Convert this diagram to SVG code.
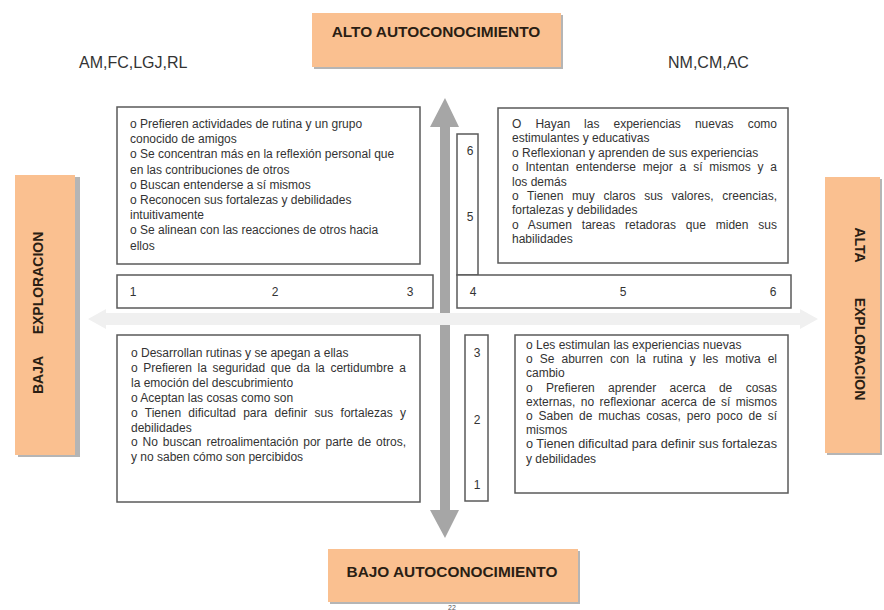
<svg xmlns="http://www.w3.org/2000/svg" width="884" height="610" viewBox="0 0 884 610">
<style>
.box{fill:#fff;stroke:#5a5a5a;stroke-width:1.5}
.lbl{fill:#fac090}
.sh{fill:#b5b5b5}
.t{font-family:"Liberation Sans",Arial,sans-serif;font-size:12px;fill:#333}
.h{font-family:"Liberation Sans",Arial,sans-serif;font-weight:bold;font-size:15.4px;fill:#2a1e14}
.v{font-family:"Liberation Sans",Arial,sans-serif;font-weight:bold;font-size:14px;fill:#2a1e14}
.c{font-family:"Liberation Sans",Arial,sans-serif;font-size:16px;fill:#333}
</style>
<rect width="884" height="610" fill="#fff"/>

<g id="connectors">
  <path d="M440,127 L430,127 L445,98 L459,127 L450,127 L450,510 L459,510 L445,538 L430,510 L440,510 Z" fill="#a6a6a6"/>
  <path d="M106,313 L106,309 L88,319 L106,329 L106,325 L800,325 L800,329 L818,319 L800,309 L800,313 Z" fill="#f0f0f0"/>
</g>

<g id="top-label">
  <rect class="sh" x="314" y="15" width="249" height="54"/>
  <rect class="lbl" x="312" y="13" width="249" height="54"/>
  <text class="h" x="436" y="37" text-anchor="middle">ALTO AUTOCONOCIMIENTO</text>
</g>
<g id="bottom-label">
  <rect class="sh" x="330" y="551" width="250" height="53"/>
  <rect class="lbl" x="328" y="549" width="250" height="53"/>
  <text class="h" x="452" y="577" text-anchor="middle">BAJO AUTOCONOCIMIENTO</text>
</g>
<g id="left-label">
  <rect class="sh" x="18" y="177" width="62" height="280"/>
  <rect class="lbl" x="15" y="175" width="60" height="280"/>
  <text class="v" transform="translate(43,283) rotate(-90)" text-anchor="middle">EXPLORACION</text>
  <text class="v" transform="translate(43,375) rotate(-90)" text-anchor="middle">BAJA</text>
</g>
<g id="right-label">
  <rect class="sh" x="827" y="179" width="55" height="276"/>
  <rect class="lbl" x="825" y="177" width="55" height="276"/>
  <text class="v" transform="translate(855,245) rotate(90)" text-anchor="middle">ALTA</text>
  <text class="v" transform="translate(855,349) rotate(90)" text-anchor="middle">EXPLORACION</text>
</g>

<g id="group-left">
  <text class="c" x="79" y="68">AM,FC,LGJ,RL</text>
</g>
<g id="group-right">
  <text class="c" x="668" y="68">NM,CM,AC</text>
</g>

<g id="box-top-left">
  <rect class="box" x="117" y="107" width="303" height="157"/>
  <text class="t" x="130" y="128">o Prefieren actividades de rutina y un grupo</text>
  <text class="t" x="130" y="143.2">conocido de amigos</text>
  <text class="t" x="130" y="158.4">o Se concentran más en la reflexión personal que</text>
  <text class="t" x="130" y="173.6">en las contribuciones de otros</text>
  <text class="t" x="130" y="188.8">o Buscan entenderse a sí mismos</text>
  <text class="t" x="130" y="204">o Reconocen sus fortalezas y debilidades</text>
  <text class="t" x="130" y="219.2">intuitivamente</text>
  <text class="t" x="130" y="234.4">o Se alinean con las reacciones de otros hacia</text>
  <text class="t" x="130" y="249.6">ellos</text>
</g>

<g id="box-top-right">
  <rect class="box" x="498" y="108" width="290" height="155"/>
  <text class="t" x="512" y="128" style="word-spacing:10.7px" textLength="265" lengthAdjust="spacing">O Hayan las experiencias nuevas como</text>
  <text class="t" x="512" y="142.4">estimulantes y educativas</text>
  <text class="t" x="512" y="156.8">o Reflexionan y aprenden de sus experiencias</text>
  <text class="t" x="512" y="171.2" style="word-spacing:3.5px" textLength="265" lengthAdjust="spacing">o Intentan entenderse mejor a sí mismos y a</text>
  <text class="t" x="512" y="185.6">los demás</text>
  <text class="t" x="512" y="200" style="word-spacing:5.3px" textLength="265" lengthAdjust="spacing">o Tienen muy claros sus valores, creencias,</text>
  <text class="t" x="512" y="214.4">fortalezas y debilidades</text>
  <text class="t" x="512" y="228.8" style="word-spacing:6.5px" textLength="265" lengthAdjust="spacing">o Asumen tareas retadoras que miden sus</text>
  <text class="t" x="512" y="243.2">habilidades</text>
</g>

<g id="scale-top">
  <rect class="box" x="457" y="134" width="21" height="141"/>
  <text class="t" x="470" y="155" text-anchor="middle">6</text>
  <text class="t" x="470" y="221" text-anchor="middle">5</text>
</g>

<g id="scale-left">
  <rect class="box" x="117" y="275" width="316" height="33"/>
  <text class="t" x="133" y="296" text-anchor="middle">1</text>
  <text class="t" x="275" y="296" text-anchor="middle">2</text>
  <text class="t" x="410" y="296" text-anchor="middle">3</text>
</g>
<g id="scale-right">
  <rect class="box" x="457" y="275" width="334" height="33"/>
  <text class="t" x="473" y="296" text-anchor="middle">4</text>
  <text class="t" x="623" y="296" text-anchor="middle">5</text>
  <text class="t" x="773" y="296" text-anchor="middle">6</text>
</g>

<g id="box-bottom-left">
  <rect class="box" x="117" y="335" width="303" height="167"/>
  <text class="t" x="131" y="357">o Desarrollan rutinas y se apegan a ellas</text>
  <text class="t" x="131" y="371.9" style="word-spacing:2.3px" textLength="275" lengthAdjust="spacing">o Prefieren la seguridad que da la certidumbre a</text>
  <text class="t" x="131" y="386.8">la emoción del descubrimiento</text>
  <text class="t" x="131" y="401.7">o Aceptan las cosas como son</text>
  <text class="t" x="131" y="416.6" style="word-spacing:3.9px" textLength="275" lengthAdjust="spacing">o Tienen dificultad para definir sus fortalezas y</text>
  <text class="t" x="131" y="431.5">debilidades</text>
  <text class="t" x="131" y="446.4" style="word-spacing:1.6px" textLength="275" lengthAdjust="spacing">o No buscan retroalimentación por parte de otros,</text>
  <text class="t" x="131" y="461.3">y no saben cómo son percibidos</text>
</g>

<g id="scale-bottom">
  <rect class="box" x="465" y="335" width="23" height="166"/>
  <text class="t" x="477" y="357" text-anchor="middle">3</text>
  <text class="t" x="477" y="424" text-anchor="middle">2</text>
  <text class="t" x="477" y="489" text-anchor="middle">1</text>
</g>

<g id="box-bottom-right">
  <rect class="box" x="515" y="335" width="273" height="158"/>
  <text class="t" x="526" y="349">o Les estimulan las experiencias nuevas</text>
  <text class="t" x="526" y="363.2" style="word-spacing:3.7px" textLength="251" lengthAdjust="spacing">o Se aburren con la rutina y les motiva el</text>
  <text class="t" x="526" y="377.4">cambio</text>
  <text class="t" x="526" y="391.6" style="word-spacing:10px" textLength="251" lengthAdjust="spacing">o Prefieren aprender acerca de cosas</text>
  <text class="t" x="526" y="405.8" style="word-spacing:2px" textLength="251" lengthAdjust="spacing">externas, no reflexionar acerca de sí mismos</text>
  <text class="t" x="526" y="420" style="word-spacing:2.5px" textLength="251" lengthAdjust="spacing">o Saben de muchas cosas, pero poco de sí</text>
  <text class="t" x="526" y="434.2">mismos</text>
  <text class="t" x="526" y="448.4" textLength="251" lengthAdjust="spacingAndGlyphs">o Tienen dificultad para definir sus fortalezas</text>
  <text class="t" x="526" y="462.6">y debilidades</text>
</g>

<g id="page-number">
  <text x="452" y="609.5" text-anchor="middle" font-family="'Liberation Sans',Arial,sans-serif" font-size="7px" fill="#555">22</text>
</g>
</svg>
